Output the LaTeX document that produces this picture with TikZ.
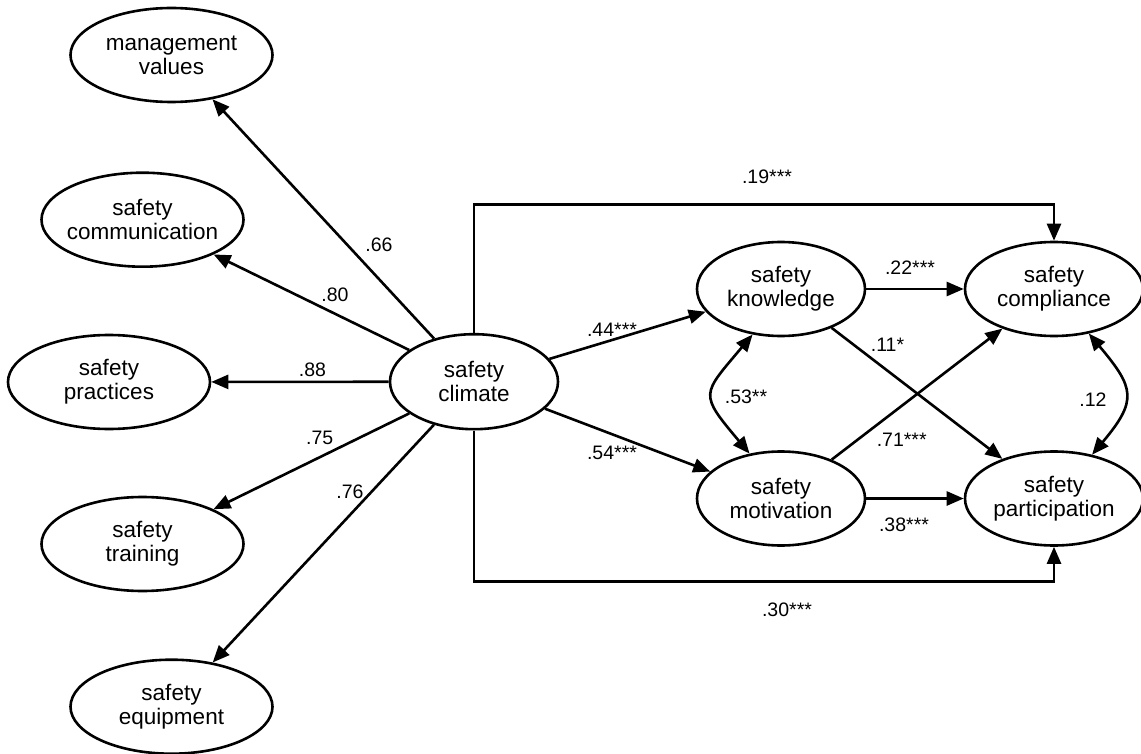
\documentclass[tikz,border=0pt]{standalone}
\usepackage{fontspec}
\setmainfont{Liberation Sans}
\usetikzlibrary{shapes.geometric,arrows.meta}
\begin{document}
\begin{tikzpicture}[x=1pt,y=1pt,
  ell/.style={ellipse, draw, line width=2.6pt, minimum height=94pt, inner sep=0pt},
  nt/.style={font=\fontsize{22.5}{24}\selectfont, align=center, inner sep=0pt},
  lab/.style={font=\fontsize{19.5}{22}\selectfont, inner sep=0pt},
  arr/.style={line width=2.6pt, -{Triangle[length=17pt,width=14pt]}},
  dbl/.style={line width=2.6pt, {Triangle[length=17pt,width=14pt]}-{Triangle[length=17pt,width=14pt]}},
]
\useasboundingbox (0,0) rectangle (1141,-754);

% indicator nodes
\node[ell, minimum width=202pt, label={[nt]center:management\\values}] (mv) at (171.5,-55) {};
\node[ell, minimum width=202pt, label={[nt]center:safety\\communication}] (comm) at (142.5,-219.7) {};
\node[ell, minimum width=202pt, label={[nt]center:safety\\practices}] (prac) at (109,-382) {};
\node[ell, minimum width=202pt, label={[nt]center:safety\\training}] (train) at (142.5,-544) {};
\node[ell, minimum width=202pt, label={[nt]center:safety\\equipment}] (equip) at (171.5,-706.7) {};

% latent nodes
\node[ell, minimum width=168pt, minimum height=95pt, label={[nt]center:safety\\climate}] (clim) at (474,-381.7) {};
\node[ell, minimum width=168pt, label={[nt]center:safety\\knowledge}] (know) at (781,-289) {};
\node[ell, minimum width=168pt, label={[nt]center:safety\\motivation}] (motiv) at (781,-498.5) {};
\node[ell, minimum width=178pt, label={[nt]center:safety\\compliance}] (comp) at (1054,-289) {};
\node[ell, minimum width=178pt, label={[nt]center:safety\\participation}] (part) at (1054,-498.5) {};

% loadings
\draw[arr] (clim) -- (mv);
\draw[arr] (clim) -- (comm);
\draw[arr] (clim) -- (prac);
\draw[arr] (clim) -- (train);
\draw[arr] (clim) -- (equip);

\node[lab] (l66) at (379,-245) {.66};
\node[lab] (l80) at (335,-295) {.80};
\node[lab] (l88) at (312.5,-369.3) {.88};
\node[lab] (l75) at (319.7,-438.3) {.75};
\node[lab] (l76) at (350,-491.7) {.76};

% structural paths
\coordinate (topmid) at (760,-204.5);
\coordinate (botmid) at (760,-581.7);
\draw[arr] (clim.north) |- (topmid) -| (comp.north);
\draw[arr] (clim.south) |- (botmid) -| (part.south);

\draw[arr] (clim) -- (know);
\draw[arr] (clim) -- (motiv);
\draw[arr] (know.east) -- (comp.west);
\draw[arr] (motiv.east) -- (part.west);
\draw[arr] (know) -- (part);
\draw[arr] (motiv) -- (comp);

\draw[dbl] (know.238) to[out=230,in=130,looseness=1.7] (motiv.125);
\draw[dbl] (comp.308) to[out=310,in=50,looseness=1.5] (part.49);

\node[lab] (l19) at (767,-177) {.19***};
\node[lab] (l44) at (612,-330) {.44***};
\node[lab] (l54) at (612,-453) {.54***};
\node[lab] (l22) at (910,-268) {.22***};
\node[lab] (l11) at (887.5,-345) {.11*};
\node[lab] (l53) at (746,-397) {.53**};
\node[lab] (l71) at (901.7,-440) {.71***};
\node[lab] (l12) at (1093,-399.5) {.12};
\node[lab] (l38) at (904,-525) {.38***};
\node[lab] (l30) at (787,-610) {.30***};
\end{tikzpicture}
\end{document}
